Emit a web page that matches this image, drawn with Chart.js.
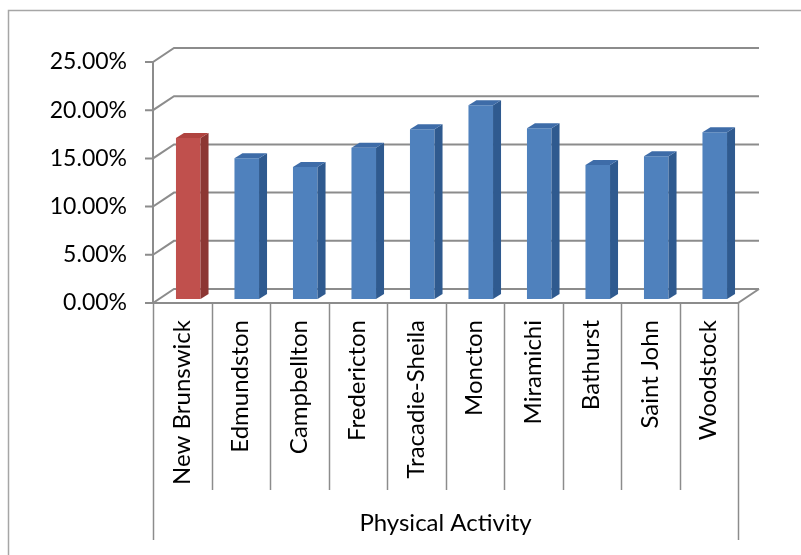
<!DOCTYPE html>
<html>
<head>
<meta charset="utf-8">
<script src="https://cdn.jsdelivr.net/npm/chart.js@4.4.1/dist/chart.umd.min.js"></script>
<style>
  html, body { margin: 0; padding: 0; background: #ffffff; }
  #wrap { width: 801px; height: 555px; }
</style>
</head>
<body>
<div id="wrap"><canvas id="chart" width="801" height="555"></canvas></div>
<script>
// Share of residents by region (Physical Activity)
const categories = ['New Brunswick', 'Edmundston', 'Campbellton', 'Fredericton', 'Tracadie-Sheila',
                    'Moncton', 'Miramichi', 'Bathurst', 'Saint John', 'Woodstock'];
const rates = [0.167, 0.146, 0.137, 0.157, 0.176, 0.201, 0.177, 0.139, 0.148, 0.173];
const yTicks = [0, 0.05, 0.10, 0.15, 0.20, 0.25];
const groupLabel = 'Physical Activity';

const FONT = 'Lato, "Open Sans", sans-serif';
const GRID = '#8c8c8c';
// depth of the floor / back wall, and of each column
const WALL_DX = 21, WALL_DY = 14;
const BAR_SHIFT_X = 6, BAR_SHIFT_Y = 4;
const COL_DX = 8, COL_DY = 5;

const faces = {
  red:  { front: '#c0504d', side: '#8c3633', top: '#b0433f' },
  blue: { front: '#4f81bd', side: '#2f5a8f', top: '#3e6ca8' }
};
const palette = categories.map((c, i) => i === 0 ? faces.red : faces.blue);

function frontGradient(ctx, el, base) {
  const g = ctx.createLinearGradient(el.x - el.width / 2, 0, el.x + el.width / 2, 0);
  g.addColorStop(0, shade(base, 0.92));
  g.addColorStop(0.45, base);
  g.addColorStop(1, shade(base, 0.95));
  return g;
}
function shade(hex, f) {
  const n = parseInt(hex.slice(1), 16);
  const r = Math.round(((n >> 16) & 255) * f), g = Math.round(((n >> 8) & 255) * f), b = Math.round((n & 255) * f);
  return 'rgb(' + r + ',' + g + ',' + b + ')';
}

const frame3d = {
  id: 'frame3d',
  beforeDraw(chart) {
    const ctx = chart.ctx;
    ctx.save();
    ctx.fillStyle = '#ffffff';
    ctx.fillRect(0, 0, chart.width, chart.height);
    ctx.strokeStyle = '#a6a6a6';
    ctx.lineWidth = 1.5;
    ctx.strokeRect(8.5, 10.5, chart.width + 10, chart.height + 10);
    ctx.restore();
  },
  beforeDatasetsDraw(chart) {
    const ctx = chart.ctx;
    const y = chart.scales.y, x = chart.scales.x;
    const L = x.left, R = x.right, B = y.getPixelForValue(0);
    ctx.save();
    ctx.strokeStyle = GRID;
    ctx.lineWidth = 2;
    ctx.lineCap = 'butt';
    yTicks.forEach(v => {
      const py = y.getPixelForValue(v);
      ctx.beginPath();
      // tick mark, side wall diagonal and back wall line
      ctx.moveTo(L - 8, py);
      ctx.lineTo(L, py);
      ctx.lineTo(L + WALL_DX, py - WALL_DY);
      ctx.lineTo(R + WALL_DX, py - WALL_DY);
      ctx.stroke();
    });
    // front value axis
    ctx.beginPath();
    ctx.moveTo(L, y.getPixelForValue(yTicks[yTicks.length - 1]));
    ctx.lineTo(L, B);
    ctx.stroke();
    // floor front and right edges
    ctx.beginPath();
    ctx.moveTo(L, B);
    ctx.lineTo(R, B);
    ctx.lineTo(R + WALL_DX, B - WALL_DY);
    ctx.stroke();
    ctx.restore();

    ctx.save();
    ctx.translate(BAR_SHIFT_X, -BAR_SHIFT_Y);
  },
  afterDatasetsDraw(chart) {
    const ctx = chart.ctx;
    const meta = chart.getDatasetMeta(0);
    meta.data.forEach((el, i) => {
      const p = el.getProps(['x', 'y', 'base', 'width'], true);
      const l = p.x - p.width / 2, r = p.x + p.width / 2;
      const c = palette[i];
      // side face
      ctx.fillStyle = c.side;
      ctx.beginPath();
      ctx.moveTo(r, p.y);
      ctx.lineTo(r + COL_DX, p.y - COL_DY);
      ctx.lineTo(r + COL_DX, p.base - COL_DY);
      ctx.lineTo(r, p.base);
      ctx.closePath();
      ctx.fill();
      // top face
      ctx.fillStyle = c.top;
      ctx.beginPath();
      ctx.moveTo(l, p.y);
      ctx.lineTo(l + COL_DX, p.y - COL_DY);
      ctx.lineTo(r + COL_DX, p.y - COL_DY);
      ctx.lineTo(r, p.y);
      ctx.closePath();
      ctx.fill();
    });
    ctx.restore();
  },
  afterDraw(chart) {
    const ctx = chart.ctx;
    const x = chart.scales.x, y = chart.scales.y;
    const B = y.getPixelForValue(0);
    const n = categories.length;
    const step = (x.right - x.left) / n;
    ctx.save();
    ctx.strokeStyle = GRID;
    ctx.lineWidth = 1.5;
    for (let i = 0; i <= n; i++) {
      const px = Math.round(x.left + i * step) + 0.5;
      ctx.beginPath();
      ctx.moveTo(px, B);
      ctx.lineTo(px, (i === 0 || i === n) ? B + 237 : B + 187);
      ctx.stroke();
    }
    ctx.fillStyle = '#000000';
    ctx.font = '24px ' + FONT;
    ctx.textAlign = 'center';
    ctx.textBaseline = 'middle';
    ctx.fillText(groupLabel, (x.left + x.right) / 2, B + 220);
    ctx.restore();
  }
};

new Chart(document.getElementById('chart'), {
  type: 'bar',
  data: {
    labels: categories,
    datasets: [{
      data: rates,
      backgroundColor: ctx => {
        const el = ctx.element;
        const base = palette[ctx.dataIndex].front;
        if (!el || !isFinite(el.x) || !isFinite(el.width)) return base;
        return frontGradient(ctx.chart.ctx, el, base);
      },
      borderWidth: 0,
      barPercentage: 0.42,
      categoryPercentage: 1,
      clip: false
    }]
  },
  options: {
    responsive: false,
    animation: false,
    events: [],
    layout: { padding: { top: 62, right: 63, left: 0, bottom: 0 } },
    plugins: { legend: { display: false }, tooltip: { enabled: false } },
    scales: {
      x: {
        grid: { display: false, drawTicks: false },
        border: { display: false },
        ticks: {
          autoSkip: false, maxRotation: 90, minRotation: 90, padding: 17,
          color: '#000000', font: { family: FONT, size: 24 }
        },
        afterFit: s => { s.height = 252; }
      },
      y: {
        min: 0, max: 0.25,
        grid: { display: false, drawTicks: false },
        border: { display: false },
        afterBuildTicks: s => { s.ticks = yTicks.map(v => ({ value: v })); },
        ticks: {
          padding: 26, color: '#000000', font: { family: FONT, size: 23 },
          callback: v => (v * 100).toFixed(2) + '%'
        },
        afterFit: s => { s.width = 153; }
      }
    }
  },
  plugins: [frame3d]
});
</script>
</body>
</html>
